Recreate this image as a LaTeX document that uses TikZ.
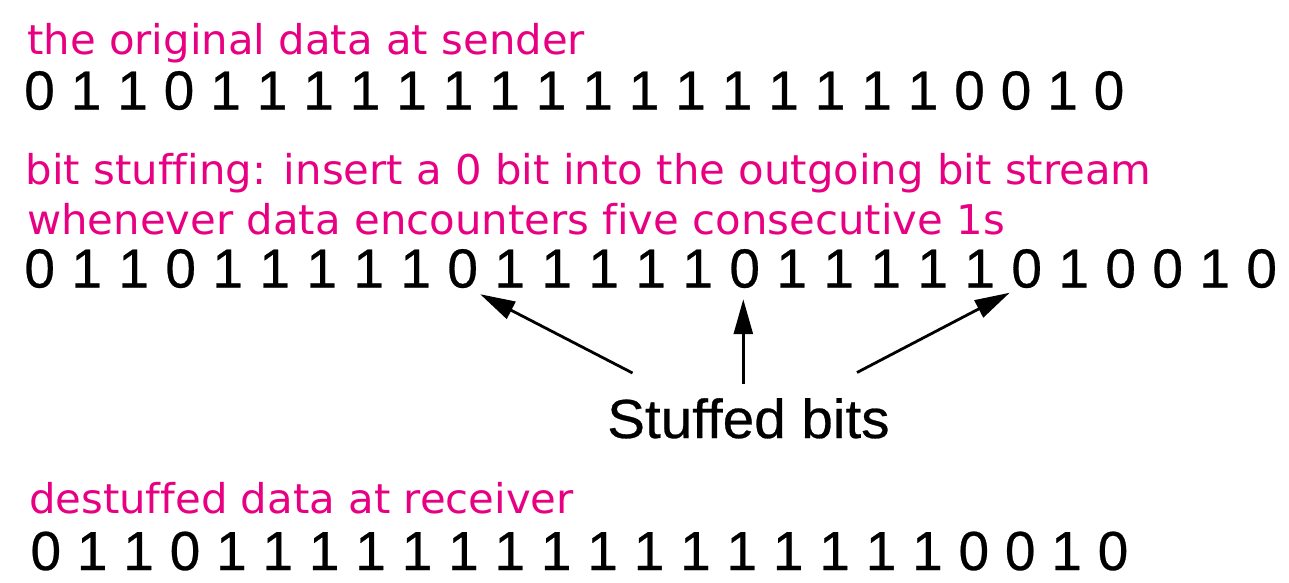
\documentclass[tikz,border=0pt]{standalone}
\usepackage{fontspec}
\setmainfont[Ligatures=NoCommon,FakeBold=0.5]{Liberation Sans}
\newfontfamily\pinkfont[Ligatures=NoCommon,FakeStretch=1.02]{DejaVu Sans}
\newfontfamily\sbfont[Ligatures=NoCommon,FakeStretch=1.03,FakeBold=0.5]{Liberation Sans}
\usetikzlibrary{arrows.meta}
\definecolor{pinktext}{RGB}{232,0,130}
\begin{document}
\begin{tikzpicture}[x=1pt,y=-1pt,
  caption/.style={anchor=base west, inner sep=0pt, text=pinktext,
    font=\pinkfont\fontsize{41}{48}\selectfont},
  bit/.style={anchor=base, inner sep=0pt, font=\fontsize{55}{60}\selectfont},
  sbtext/.style={anchor=base west, inner sep=0pt, font=\sbfont\fontsize{55}{60}\selectfont},
  arr/.style={line width=2.8pt, -{Triangle[length=35pt,width=19pt]}}]
\useasboundingbox (0,0) rectangle (1289,582);
% captions
\node[caption] (c1) at (27,54) {the original data at sender};
\node[caption] (c2) at (25.3,184.3) {bit stuffing: insert a 0 bit into the outgoing bit stream};
\node[caption] (c3) at (27,234.3) {whenever data encounters five consecutive 1s};
\node[caption] (c4) at (28.8,513.3) {destuffed data at receiver};
% original data
\foreach \b [count=\i from 0] in {0,1,1,0,1,1,1,1,1,1,1,1,1,1,1,1,1,1,1,1,0,0,1,0}
  \node[bit] (a\i) at ({39.5+46.5*\i},109.5) {\b};
% stuffed data
\foreach \b [count=\i from 0] in {0,1,1,0,1,1,1,1,1,0,1,1,1,1,1,0,1,1,1,1,1,0,1,0,0,1,0}
  \node[bit] (b\i) at ({39.7+47.0*\i},287.5) {\b};
% destuffed data
\foreach \b [count=\i from 0] in {0,1,1,0,1,1,1,1,1,1,1,1,1,1,1,1,1,1,1,1,0,0,1,0}
  \node[bit] (d\i) at ({45.8+46.4*\i},570) {\b};
% label
\node[sbtext] (sb) at (607,438) {Stuffed bits};
% arrows
\coordinate (t1) at (632.5,373);
\coordinate (t2) at (743.3,384);
\coordinate (t3) at (857,372.5);
\coordinate (h2) at ([shift={(0,11)}]b15.south);
\draw[arr] (t1) -- ([shift={(2,6)}]b9.south east);
\draw[arr] (t2) -- (t2 |- h2);
\draw[arr] (t3) -- ([shift={(-1.5,4.5)}]b21.south west);
\end{tikzpicture}
\end{document}
